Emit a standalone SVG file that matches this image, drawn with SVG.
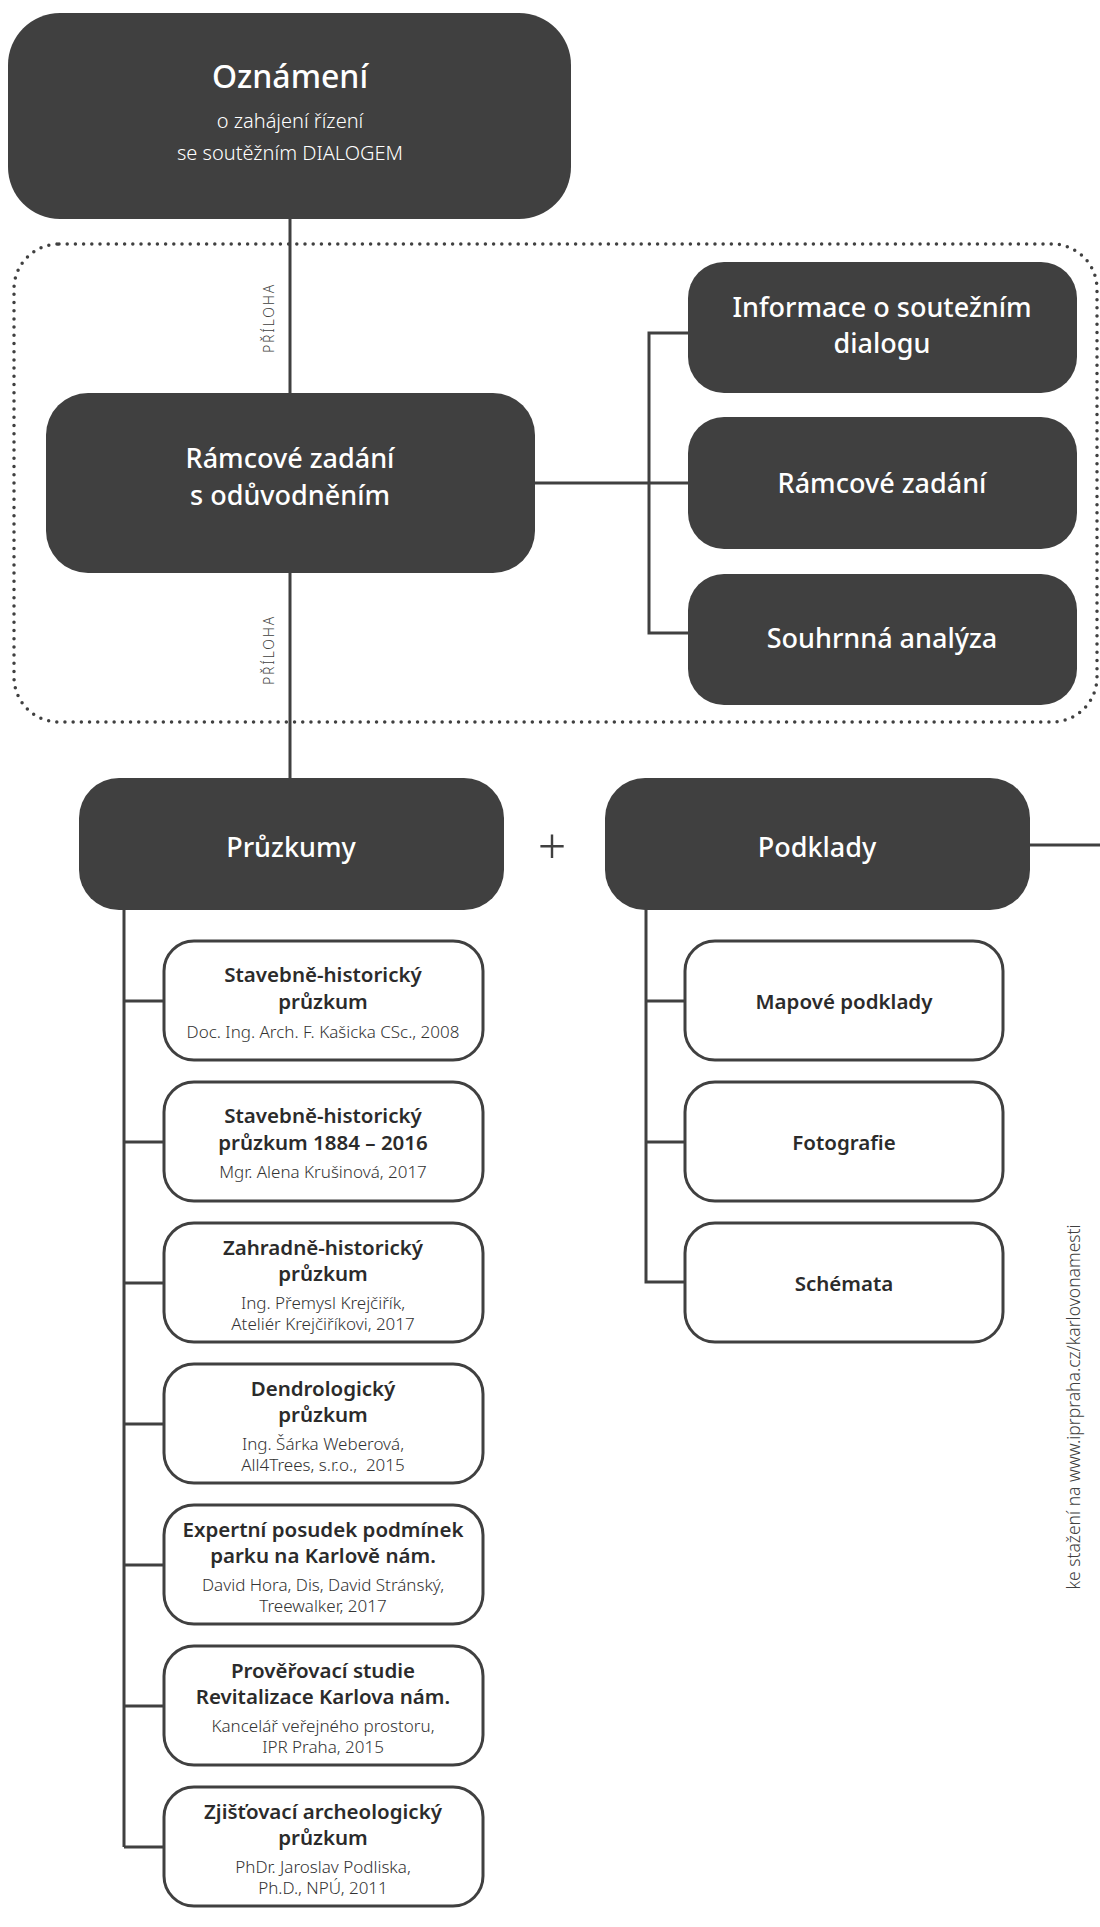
<svg xmlns="http://www.w3.org/2000/svg" width="1100" height="1927" viewBox="0 0 1100 1927">
<style>
.dark{fill:#404040;}
.light{fill:#fff;stroke:#404040;stroke-width:3;}
.conn{fill:none;stroke:#404040;stroke-width:3;}
.dots{fill:none;stroke:#404040;stroke-width:3.5;stroke-linecap:round;stroke-dasharray:0 8.2;}
text{font-family:"Noto Sans","Open Sans","DejaVu Sans",sans-serif;text-anchor:middle;}
.wt{fill:#fff;font-weight:500;}
.wsub{fill:#fff;font-weight:300;font-size:20px;}
.big{font-size:27px;}
.t{fill:#2b2b2b;font-weight:600;font-size:20.5px;}
.s{fill:#333;font-weight:300;font-size:17px;}
.lbl{fill:#404040;font-weight:300;font-size:14px;letter-spacing:1.8px;}
.url{fill:#404040;font-weight:300;font-size:17.5px;}
</style>
<rect class="dots" x="14" y="244" width="1083" height="478" rx="45"/>
<g id="connectors">
<path class="conn" d="M290 219V393M290 573V779"/>
<path class="conn" d="M535 483H688M688 333H649V633H688"/>
<path class="conn" d="M1030 845H1100"/>
<path class="conn" d="M124 910V1847M124 1001H164M124 1142H164M124 1283H164M124 1424H164M124 1565H164M124 1706H164M124 1847H164"/>
<path class="conn" d="M646 910V1282H685M646 1001H685M646 1142H685"/>
</g>
<text class="lbl" transform="translate(274 318) rotate(-90)">PŘÍLOHA</text>
<text class="lbl" transform="translate(274 650) rotate(-90)">PŘÍLOHA</text>
<g id="oznameni">
<rect class="dark" x="8" y="13" width="563" height="206" rx="52"/>
<text class="wt" x="290" y="88" font-size="32" font-weight="600">Oznámení</text>
<text class="wsub" x="290" y="128">o zahájení řízení</text>
<text class="wsub" x="290" y="160">se soutěžním DIALOGEM</text>
</g>
<g id="ramcove-oduvodneni">
<rect class="dark" x="46" y="393" width="489" height="180" rx="42"/>
<text class="wt big" x="290" y="468">Rámcové zadání</text>
<text class="wt big" x="290" y="505">s odůvodněním</text>
</g>
<g id="informace">
<rect class="dark" x="688" y="262" width="389" height="131" rx="36"/>
<text class="wt big" x="882" y="317">Informace o soutežním</text>
<text class="wt big" x="882" y="353">dialogu</text>
</g>
<g id="ramcove-zadani">
<rect class="dark" x="688" y="417" width="389" height="132" rx="36"/>
<text class="wt big" x="882" y="493">Rámcové zadání</text>
</g>
<g id="souhrnna">
<rect class="dark" x="688" y="574" width="389" height="131" rx="36"/>
<text class="wt big" x="882" y="648">Souhrnná analýza</text>
</g>
<g id="pruzkumy">
<rect class="dark" x="79" y="778" width="425" height="132" rx="40"/>
<text class="wt" x="291" y="857" font-size="27">Průzkumy</text>
</g>
<text x="552" y="864" font-size="50" font-weight="300" fill="#404040">+</text>
<g id="podklady">
<rect class="dark" x="605" y="778" width="425" height="132" rx="40"/>
<text class="wt" x="817" y="857" font-size="27">Podklady</text>
</g>
<g id="p1">
<rect class="light" x="164" y="941" width="319" height="119" rx="30"/>
<text class="t" x="323" y="982">Stavebně-historický</text>
<text class="t" x="323" y="1009">průzkum</text>
<text class="s" x="323" y="1038">Doc. Ing. Arch. F. Kašicka CSc., 2008</text>
</g>
<g id="p2">
<rect class="light" x="164" y="1082" width="319" height="119" rx="30"/>
<text class="t" x="323" y="1123">Stavebně-historický</text>
<text class="t" x="323" y="1150">průzkum 1884 – 2016</text>
<text class="s" x="323" y="1178">Mgr. Alena Krušinová, 2017</text>
</g>
<g id="p3">
<rect class="light" x="164" y="1223" width="319" height="119" rx="30"/>
<text class="t" x="323" y="1255">Zahradně-historický</text>
<text class="t" x="323" y="1281">průzkum</text>
<text class="s" x="323" y="1309">Ing. Přemysl Krejčiřík,</text>
<text class="s" x="323" y="1330">Ateliér Krejčiříkovi, 2017</text>
</g>
<g id="p4">
<rect class="light" x="164" y="1364" width="319" height="119" rx="30"/>
<text class="t" x="323" y="1396">Dendrologický</text>
<text class="t" x="323" y="1422">průzkum</text>
<text class="s" x="323" y="1450">Ing. Šárka Weberová,</text>
<text class="s" x="323" y="1471" xml:space="preserve">All4Trees, s.r.o.,  2015</text>
</g>
<g id="p5">
<rect class="light" x="164" y="1505" width="319" height="119" rx="30"/>
<text class="t" x="323" y="1537">Expertní posudek podmínek</text>
<text class="t" x="323" y="1563">parku na Karlově nám.</text>
<text class="s" x="323" y="1591">David Hora, Dis, David Stránský,</text>
<text class="s" x="323" y="1612">Treewalker, 2017</text>
</g>
<g id="p6">
<rect class="light" x="164" y="1646" width="319" height="119" rx="30"/>
<text class="t" x="323" y="1678">Prověřovací studie</text>
<text class="t" x="323" y="1704">Revitalizace Karlova nám.</text>
<text class="s" x="323" y="1732">Kancelář veřejného prostoru,</text>
<text class="s" x="323" y="1753">IPR Praha, 2015</text>
</g>
<g id="p7">
<rect class="light" x="164" y="1787" width="319" height="119" rx="30"/>
<text class="t" x="323" y="1819">Zjišťovací archeologický</text>
<text class="t" x="323" y="1845">průzkum</text>
<text class="s" x="323" y="1873">PhDr. Jaroslav Podliska,</text>
<text class="s" x="323" y="1894">Ph.D., NPÚ, 2011</text>
</g>
<g id="k1">
<rect class="light" x="685" y="941" width="318" height="119" rx="30"/>
<text class="t" x="844" y="1009">Mapové podklady</text>
</g>
<g id="k2">
<rect class="light" x="685" y="1082" width="318" height="119" rx="30"/>
<text class="t" x="844" y="1150">Fotografie</text>
</g>
<g id="k3">
<rect class="light" x="685" y="1223" width="318" height="119" rx="30"/>
<text class="t" x="844" y="1291">Schémata</text>
</g>
<text class="url" transform="translate(1080 1407) rotate(-90)">ke stažení na www.iprpraha.cz/karlovonamesti</text>
</svg>
